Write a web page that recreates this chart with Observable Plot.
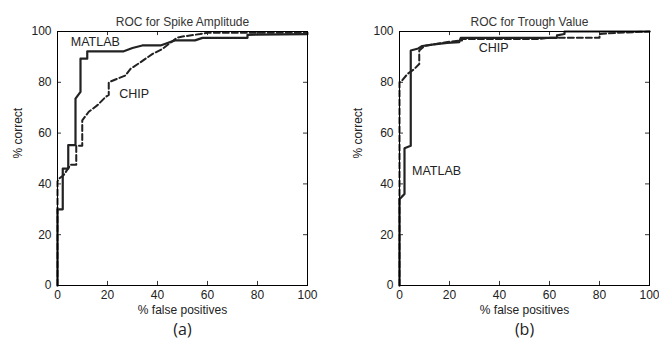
<!DOCTYPE html>
<html><head><meta charset="utf-8">
<script src="https://cdn.jsdelivr.net/npm/d3@7"></script>
<script src="https://cdn.jsdelivr.net/npm/@observablehq/plot@0.6"></script>
<style>
body{margin:0;background:#fff;}
#wrap{position:relative;width:659px;height:345px;}
#wrap svg{position:absolute;top:0;}
</style></head>
<body><div id="wrap"></div>
<script>
// Panel (a): ROC for Spike Amplitude
const aMatlabX = [0,0,2.1,2.1,4.3,4.3,7.2,7.2,9.2,9.2,11.9,11.9,26.5,30,33.9,41.2,44,47,55,58,76,76,100];
const aMatlabY = [0,30,30,46,46,55.3,55.3,73.6,76.2,89.3,89.3,92.2,92.2,93.5,94.5,94.5,95.5,96.5,96.5,97.5,97.5,98.7,99];
const aChipX = [0,0,0.5,2.5,5.2,7.5,7.5,9.9,9.9,12.5,16,19.2,20.5,20.5,23.9,27.2,29.2,33.2,37.9,41.9,45.2,47.9,50,57,60,100];
const aChipY = [0,41,42,43.5,47.5,47.5,55,55,65,68.4,71,74.2,75,80,81.4,82.7,85.3,87.9,91.1,93.1,95.6,97.6,98,99,99.5,99.5];
// Panel (b): ROC for Trough Value
const bMatlabX = [0,0,2,2,4.5,4.5,7.5,9.1,13.8,19.1,23.9,24.5,63,63,66,66,100];
const bMatlabY = [0,34,36,54,55,92.5,93.3,94.3,94.9,95.5,95.8,97.5,97.5,98.5,99,100,100];
const bChipX = [0,0,0.5,3.2,5.9,7.9,7.9,10,14,20,25,25,55,60,80,80,87,100];
const bChipY = [0,80,80.1,83.3,85.2,87.2,92.5,94.3,95,96,96.5,97,97,97.5,97.5,99,99.5,100];
const ticks = [0,20,40,60,80,100];
const titles = ["ROC for Spike Amplitude","ROC for Trough Value"];
const panelTags = ["(a)","(b)"];
const xLabel = "% false positives";
const yLabel = "% correct";
const seriesNames = ["MATLAB","CHIP"];
const aLabelPos = [[5.3,95.8],[24.7,75.5]];
const bLabelPos = [[5,45],[31.7,93.5]];

function panel(mx,my,cx,cy,labelPos,title,tag,opts){
  const matlab = mx.map((x,i)=>({x,y:my[i]}));
  const chip = cx.map((x,i)=>({x,y:cy[i]}));
  const labels = seriesNames.map((n,i)=>({x:labelPos[i][0],y:labelPos[i][1],t:n}));
  const font = "Liberation Sans, Arial, sans-serif";
  const tk = 1.6;
  return Plot.plot({
    width: opts.width, height: 345,
    marginLeft: opts.ml, marginRight: opts.mr, marginTop: 31, marginBottom: 60,
    style:{fontFamily:font,fontSize:"12px",color:"#222",background:"#fff"},
    x:{domain:[0,100],ticks},
    y:{domain:[0,100],ticks},
    marks:[
      Plot.axisX({anchor:"bottom",ticks,tickSize:0,tickPadding:5,label:null,fontSize:12}),
      Plot.axisY({anchor:"left",ticks,tickSize:0,tickPadding:6,label:null,fontSize:12}),
      Plot.ruleX(ticks,{x:d=>d,y1:0,y2:tk,stroke:"#000",strokeWidth:0.8}),
      Plot.ruleX(ticks,{x:d=>d,y1:100-tk,y2:100,stroke:"#000",strokeWidth:0.8}),
      Plot.ruleY(ticks,{y:d=>d,x1:0,x2:tk,stroke:"#000",strokeWidth:0.8}),
      Plot.ruleY(ticks,{y:d=>d,x1:100-tk,x2:100,stroke:"#000",strokeWidth:0.8}),
      Plot.line(chip,{x:"x",y:"y",stroke:"#222",strokeWidth:2,strokeDasharray:"6,3"}),
      Plot.line(matlab,{x:"x",y:"y",stroke:"#222",strokeWidth:2.2}),
      Plot.frame({stroke:"#000",strokeWidth:1}),
      Plot.text(labels,{x:"x",y:"y",text:"t",textAnchor:"start",fontSize:12.5,fill:"#222"}),
      Plot.text([title],{frameAnchor:"top",dy:-14,dx:opts.tdx,fontSize:12,fill:"#333"}),
      Plot.text([xLabel],{frameAnchor:"bottom",dy:28,fontSize:12,fill:"#222"}),
      Plot.text([tag],{frameAnchor:"bottom",dy:49,fontSize:16,fill:"#222",fontFamily:"Open Sans, sans-serif"}),
      Plot.text([yLabel],{frameAnchor:"left",rotate:-90,dx:opts.ydx,fontSize:12,fill:"#222"})
    ]
  });
}
const wrap = document.getElementById("wrap");
const p1 = panel(aMatlabX,aMatlabY,aChipX,aChipY,aLabelPos,titles[0],panelTags[0],{width:330,ml:57,mr:23,tdx:0,ydx:-39});
p1.style.left="0px";
const p2 = panel(bMatlabX,bMatlabY,bChipX,bChipY,bLabelPos,titles[1],panelTags[1],{width:329,ml:69,mr:10,tdx:5,ydx:-41});
p2.style.left="330px";
wrap.appendChild(p1); wrap.appendChild(p2);
</script></body></html>
